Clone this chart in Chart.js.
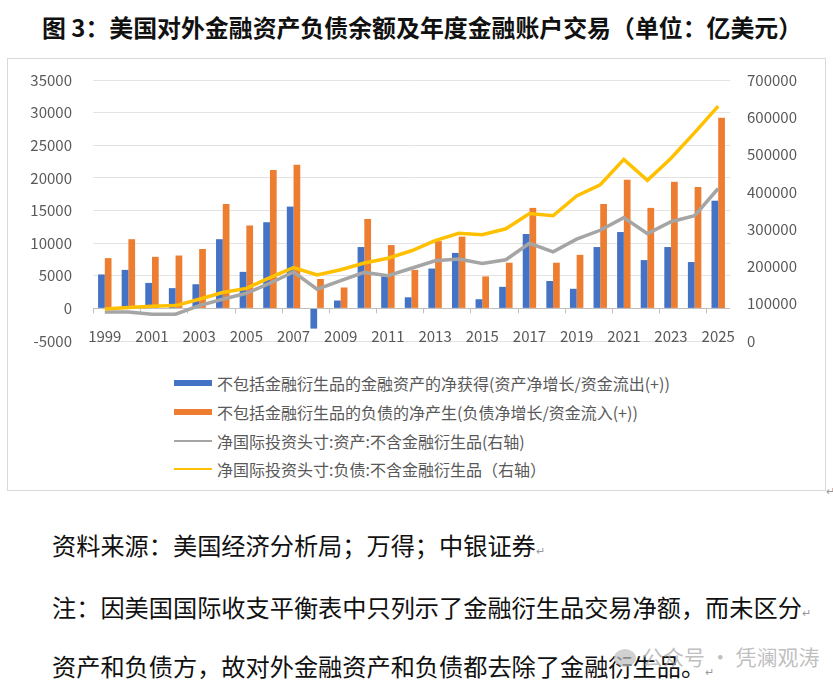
<!DOCTYPE html>
<html>
<head>
<meta charset="utf-8">
<script src="https://cdn.jsdelivr.net/npm/chart.js@4"></script>
<style>
  body { margin: 0; background: #fff; width: 833px; height: 689px; position: relative; overflow: hidden;
         font-family: "Noto Sans CJK SC", sans-serif; }
  #title { position: absolute; left: 42px; top: 12px; font-size: 23.9px; line-height: 30px; font-weight: bold; color: #111; white-space: nowrap; }
  #frame { position: absolute; left: 7px; top: 58px; width: 817px; height: 431px; border: 1.5px solid #d9d9d9; }
  #plot-id { position: absolute; left: 0; top: 0; }
  #legend { position: absolute; left: 166px; top: 310px; font-size: 16px; color: #595959; }
  #legend .row { height: 28.7px; display: flex; align-items: center; white-space: nowrap; }
  #legend .sw { width: 38px; margin-right: 5px; }
  .note { position: absolute; left: 52px; font-size: 24.2px; line-height: 30px; color: #111; white-space: nowrap; }
  .pm { font-size: 11px; color: #999; }
  #wm { position: absolute; left: 614px; top: 641px; font-size: 21px; color: rgba(170,170,170,0.75); white-space: nowrap; }
  #wm .ic { display: inline-block; width: 22px; height: 18px; border-radius: 50%; background: rgba(190,190,190,0.7); vertical-align: -2px; margin-right: 6px; }
</style>
</head>
<body>
<div id="title">图 3：美国对外金融资产负债余额及年度金融账户交易（单位：亿美元）</div>
<div id="frame">
  <canvas id="plot-id" width="816" height="299"></canvas>
  <div id="legend"></div>
</div>
<span class="pm" style="position:absolute;left:826px;top:482px;">↵</span>
<div class="note" style="top:530px;">资料来源：美国经济分析局；万得；中银证券<span class="pm">↵</span></div>
<div class="note" style="top:592px;">注：因美国国际收支平衡表中只列示了金融衍生品交易净额，而未区分<span class="pm">↵</span></div>
<div class="note" style="top:651px;">资产和负债方，故对外金融资产和负债都去除了金融衍生品。<span class="pm">↵</span></div>
<div id="wm"><span class="ic"></span>公众号 · 凭澜观涛</div>
<script>
// years on the category axis
const years = ['1999','2000','2001','2002','2003','2004','2005','2006','2007','2008','2009','2010','2011',
  '2012','2013','2014','2015','2016','2017','2018','2019','2020','2021','2022','2023','2024','2025'];
// annual flows, left axis (亿美元)
const assetFlow = [5200, 5900, 3900, 3100, 3700, 10600, 5600, 13200, 15600, -3100, 1200, 9400, 4900,
  1700, 6100, 8500, 1400, 3300, 11400, 4200, 3000, 9400, 11700, 7400, 9400, 7100, 16500];
const liabFlow = [7700, 10600, 7900, 8100, 9100, 16000, 12700, 21200, 22000, 4500, 3200, 13700, 9700,
  5900, 10300, 11000, 4900, 7000, 15400, 7000, 8200, 16000, 19700, 15400, 19400, 18600, 29200];
// stocks, right axis (亿美元)
const iipAssets = [78000, 78000, 72000, 72000, 95000, 112000, 128000, 155000, 185000, 139000, 162000, 184000, 175000,
  195000, 215000, 220000, 208000, 218000, 262000, 239000, 273000, 297000, 331000, 288000, 320000, 336000, 409000];
const iipLiabs = [86000, 90000, 93000, 95000, 112000, 130000, 141000, 170000, 197000, 177000, 191000, 209000, 222000,
  242000, 269000, 289000, 285000, 301000, 342000, 336000, 389000, 419000, 487000, 431000, 490000, 559000, 630000];
const seriesNames = [
  '不包括金融衍生品的金融资产的净获得(资产净增长/资金流出(+))',
  '不包括金融衍生品的负债的净产生(负债净增长/资金流入(+))',
  '净国际投资头寸:资产:不含金融衍生品(右轴)',
  '净国际投资头寸:负债:不含金融衍生品（右轴）'
];

const tickFont = { family: '"Noto Sans CJK SC", sans-serif', size: 15 };
const plain = v => String(v);

// small tick marks on the zero line, every second category like the original
const zeroTicks = {
  id: 'zeroTicks',
  beforeDatasetsDraw(chart) {
    const { ctx, scales: { x, y } } = chart;
    const y0 = y.getPixelForValue(0);
    const step = x.getPixelForTick(1) - x.getPixelForTick(0);
    ctx.save();
    ctx.strokeStyle = '#bfbfbf';
    ctx.lineWidth = 1;
    ctx.beginPath();
    for (let i = 0; i <= years.length; i += 2) {
      const px = Math.round(x.getPixelForTick(0) - step / 2 + i * step) + 0.5;
      ctx.moveTo(px, y0);
      ctx.lineTo(px, y0 + 5);
    }
    ctx.stroke();
    ctx.restore();
  }
};

// keep the tick padding from pushing the plot area inwards
function fixY(width) {
  return function (s) { s.width = width; s.paddingTop = 0; s.paddingBottom = 0; };
}

const ctx = document.getElementById('plot-id');
const chart = new Chart(ctx, {
  data: {
    labels: years,
    datasets: [
      { type: 'bar', label: seriesNames[0], data: assetFlow, backgroundColor: '#4472c4', yAxisID: 'y',
        order: 2, categoryPercentage: 0.57, barPercentage: 1.0 },
      { type: 'bar', label: seriesNames[1], data: liabFlow, backgroundColor: '#ed7d31', yAxisID: 'y',
        order: 2, categoryPercentage: 0.57, barPercentage: 1.0 },
      { type: 'line', label: seriesNames[2], data: iipAssets, borderColor: '#a5a5a5', borderWidth: 3.5,
        pointRadius: 0, tension: 0, yAxisID: 'y1', order: 1 },
      { type: 'line', label: seriesNames[3], data: iipLiabs, borderColor: '#ffc000', borderWidth: 3.5,
        pointRadius: 0, tension: 0, yAxisID: 'y1', order: 0 }
    ]
  },
  options: {
    responsive: false,
    animation: false,
    layout: { padding: { top: 21, left: 0, right: 0, bottom: 0 } },
    scales: {
      x: {
        grid: { display: false, drawTicks: false },
        border: { display: false },
        ticks: {
          font: tickFont, color: '#595959', mirror: true, padding: -4, maxRotation: 0, autoSkip: false,
          callback: function (v, i) { return i % 2 === 0 ? years[i] : ''; }
        },
        afterFit: function (s) { s.height = 17; }
      },
      y: {
        position: 'left',
        min: -5000, max: 35000,
        ticks: { stepSize: 5000, font: tickFont, color: '#595959', padding: 21, callback: plain },
        grid: { drawTicks: false, color: c => c.tick && c.tick.value === 0 ? '#bfbfbf' : '#e3e3e3' },
        border: { display: false },
        afterFit: fixY(85)
      },
      y1: {
        position: 'right',
        min: 0, max: 700000,
        ticks: { stepSize: 100000, font: tickFont, color: '#595959', padding: 17, callback: plain },
        grid: { display: false, drawTicks: false },
        border: { display: false },
        afterFit: fixY(94)
      }
    },
    plugins: {
      legend: { display: false },
      title: { display: false },
      tooltip: { enabled: false }
    }
  },
  plugins: [zeroTicks]
});

// legend rows built from the chart's datasets
const legendBox = document.getElementById('legend');
chart.data.datasets.forEach(ds => {
  const row = document.createElement('div');
  row.className = 'row';
  const sw = document.createElement('span');
  sw.className = 'sw';
  if (ds.type === 'bar') {
    sw.style.height = '6px';
    sw.style.background = ds.backgroundColor;
  } else {
    sw.style.height = '2px';
    sw.style.background = ds.borderColor;
  }
  const tx = document.createElement('span');
  tx.textContent = ds.label;
  row.appendChild(sw);
  row.appendChild(tx);
  legendBox.appendChild(row);
});
</script>
</body>
</html>
